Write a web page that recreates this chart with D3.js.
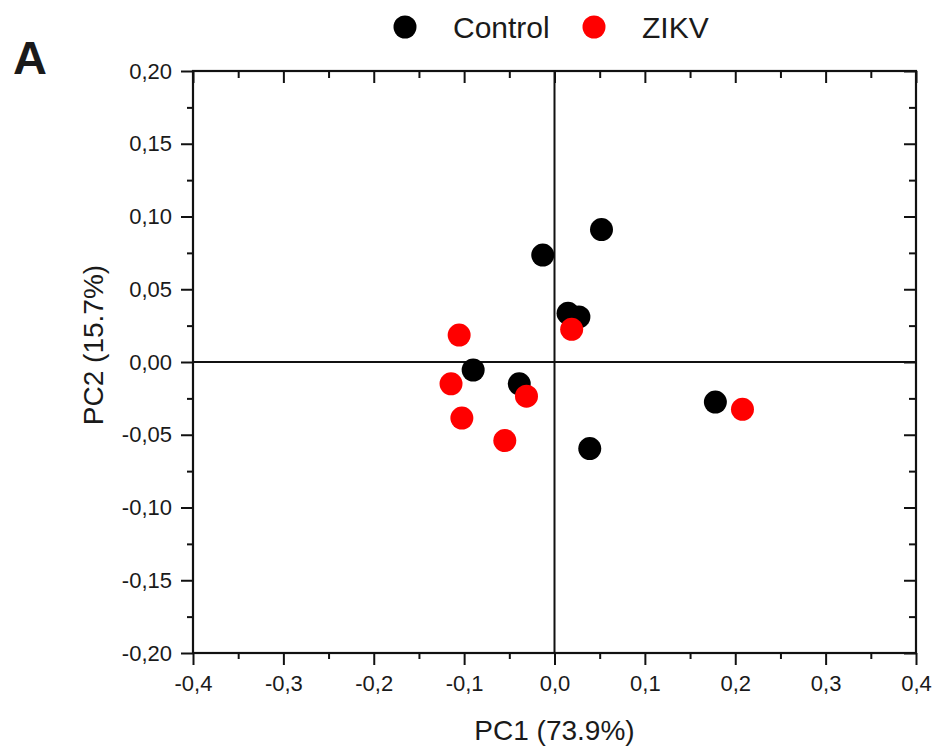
<!DOCTYPE html>
<html>
<head>
<meta charset="utf-8">
<script src="https://cdn.jsdelivr.net/npm/d3@7"></script>
<style>
  body { margin: 0; background: #fff; }
  text { font-family: "Liberation Sans", Arial, sans-serif; fill: #1a1a1a; }
</style>
</head>
<body>
<svg id="chart" width="936" height="749"></svg>
<script>
// PCA scores
const controlPC1 = [0.052, -0.013, 0.015, 0.027, -0.090, -0.039, 0.039, 0.178];
const controlPC2 = [0.091, 0.0735, 0.0335, 0.031, -0.0055, -0.015, -0.0595, -0.0275];
const zikvPC1 = [-0.1055, 0.019, -0.1145, -0.031, -0.1025, -0.055, 0.208];
const zikvPC2 = [0.0185, 0.0225, -0.015, -0.0235, -0.0385, -0.054, -0.0325];

const xTicks = [-0.4, -0.3, -0.2, -0.1, 0.0, 0.1, 0.2, 0.3, 0.4];
const yTicks = [-0.20, -0.15, -0.10, -0.05, 0.00, 0.05, 0.10, 0.15, 0.20];
const seriesNames = ["Control", "ZIKV"];
const seriesColors = ["#000000", "#ff0000"];

const margin = { left: 193, top: 71, right: 20, bottom: 96 };
const width = 936, height = 749;

const svg = d3.select("#chart");

const x = d3.scaleLinear().domain([-0.4, 0.4]).range([margin.left, width - margin.right]);
const y = d3.scaleLinear().domain([-0.2, 0.2]).range([height - margin.bottom, margin.top]);

const comma = (d, n) => d.toFixed(n).replace(".", ",");
const xMinor = d3.range(-0.35, 0.4, 0.1);
const yMinor = d3.range(-0.175, 0.2, 0.05);

// bottom axis, ticks outward
const gx = svg.append("g").attr("transform", "translate(0," + y(-0.2) + ")");
gx.call(d3.axisBottom(x).tickValues(xTicks).tickSize(12).tickPadding(10).tickFormat(d => comma(d, 1)))
  .call(g => g.select(".domain").remove());
gx.selectAll(".tick line").attr("stroke", "#111").attr("stroke-width", 2);
gx.selectAll(".tick text").style("font-size", "22px").attr("fill", "#1a1a1a");
gx.append("g").call(d3.axisBottom(x).tickValues(xMinor).tickSize(6).tickFormat(""))
  .call(g => g.select(".domain").remove())
  .selectAll("line").attr("stroke", "#111").attr("stroke-width", 2);

// left axis, ticks outward
const gy = svg.append("g").attr("transform", "translate(" + x(-0.4) + ",0)");
gy.call(d3.axisLeft(y).tickValues(yTicks).tickSize(12).tickPadding(9).tickFormat(d => comma(d, 2)))
  .call(g => g.select(".domain").remove());
gy.selectAll(".tick line").attr("stroke", "#111").attr("stroke-width", 2);
gy.selectAll(".tick text").style("font-size", "22px").attr("fill", "#1a1a1a");
gy.append("g").call(d3.axisLeft(y).tickValues(yMinor).tickSize(6).tickFormat(""))
  .call(g => g.select(".domain").remove())
  .selectAll("line").attr("stroke", "#111").attr("stroke-width", 2);

// top and right axes, ticks inward, no labels
const gt = svg.append("g").attr("transform", "translate(0," + y(0.2) + ")");
gt.call(d3.axisBottom(x).tickValues(xTicks).tickSize(12).tickFormat(""));
gt.append("g").call(d3.axisBottom(x).tickValues(xMinor).tickSize(7).tickFormat(""));
gt.selectAll(".domain").remove();
gt.selectAll("line").attr("stroke", "#111").attr("stroke-width", 2);

const gr = svg.append("g").attr("transform", "translate(" + x(0.4) + ",0)");
gr.call(d3.axisLeft(y).tickValues(yTicks).tickSize(12).tickFormat(""));
gr.append("g").call(d3.axisLeft(y).tickValues(yMinor).tickSize(7).tickFormat(""));
gr.selectAll(".domain").remove();
gr.selectAll("line").attr("stroke", "#111").attr("stroke-width", 2);

// frame
svg.append("rect")
  .attr("x", x(-0.4)).attr("y", y(0.2))
  .attr("width", x(0.4) - x(-0.4)).attr("height", y(-0.2) - y(0.2))
  .attr("fill", "none").attr("stroke", "#111").attr("stroke-width", 2.2);

// zero lines
svg.append("line")
  .attr("x1", x(0)).attr("x2", x(0)).attr("y1", y(0.2)).attr("y2", y(-0.2))
  .attr("stroke", "#111").attr("stroke-width", 2);
svg.append("line")
  .attr("x1", x(-0.4)).attr("x2", x(0.4)).attr("y1", y(0)).attr("y2", y(0))
  .attr("stroke", "#111").attr("stroke-width", 2);

// points
const series = [
  { name: seriesNames[0], color: seriesColors[0], pts: controlPC1.map((v, i) => [v, controlPC2[i]]) },
  { name: seriesNames[1], color: seriesColors[1], pts: zikvPC1.map((v, i) => [v, zikvPC2[i]]) }
];
series.forEach(s => {
  svg.append("g").selectAll("circle")
    .data(s.pts)
    .enter()
    .append("circle")
    .attr("cx", d => x(d[0]))
    .attr("cy", d => y(d[1]))
    .attr("r", 11.5)
    .attr("fill", s.color);
});

// axis titles
svg.append("text")
  .attr("x", x(0)).attr("y", 740)
  .attr("text-anchor", "middle")
  .style("font-size", "28px")
  .text("PC1 (73.9%)");
svg.append("text")
  .attr("transform", "translate(103,345) rotate(-90)")
  .attr("text-anchor", "middle")
  .style("font-size", "28px")
  .text("PC2 (15.7%)");

// panel letter
svg.append("text")
  .attr("x", 13).attr("y", 74)
  .style("font-size", "47px").style("font-weight", "bold")
  .attr("fill", "#000")
  .text("A");

// legend
const legendX = [405, 594];
const legend = svg.append("g");
series.forEach((s, i) => {
  legend.append("circle")
    .attr("cx", legendX[i]).attr("cy", 27)
    .attr("r", 11.5)
    .attr("fill", s.color);
  legend.append("text")
    .attr("x", legendX[i] + 48).attr("y", 37.5)
    .style("font-size", "30px")
    .text(s.name);
});
</script>
</body>
</html>
